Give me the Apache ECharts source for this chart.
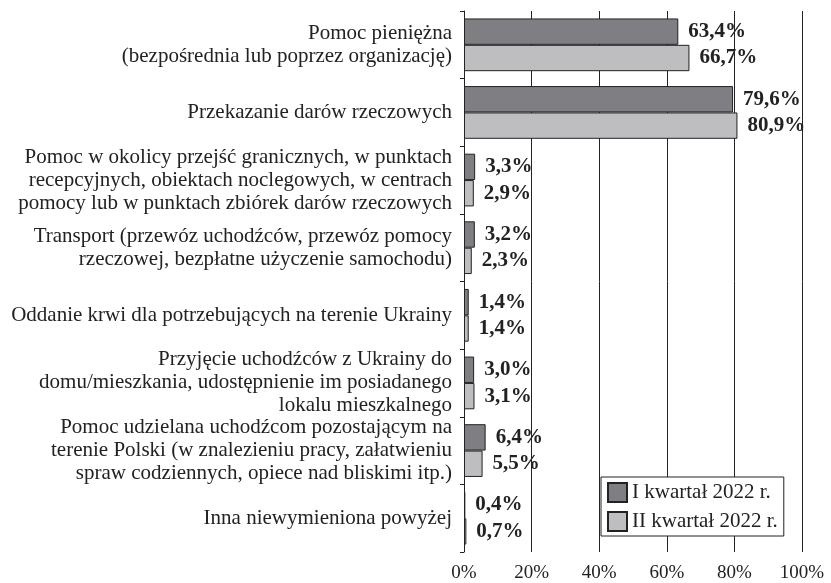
<!DOCTYPE html>
<html>
<head>
<meta charset="utf-8">
<script src="https://cdn.jsdelivr.net/npm/echarts@6/dist/echarts.min.js"></script>
<style>
html,body{margin:0;padding:0;background:#fff;}
#chart{width:831px;height:583px;}
</style>
</head>
<body>
<div id="chart"></div>
<script>
const categories = [
  'Pomoc pieniężna\n(bezpośrednia lub poprzez organizację)',
  'Przekazanie darów rzeczowych',
  'Pomoc w okolicy przejść granicznych, w punktach\nrecepcyjnych, obiektach noclegowych, w centrach\npomocy lub w punktach zbiórek darów rzeczowych',
  'Transport (przewóz uchodźców, przewóz pomocy\nrzeczowej, bezpłatne użyczenie samochodu)',
  'Oddanie krwi dla potrzebujących na terenie Ukrainy',
  'Przyjęcie uchodźców z Ukrainy do\ndomu/mieszkania, udostępnienie im posiadanego\nlokalu mieszkalnego',
  'Pomoc udzielana uchodźcom pozostającym na\nterenie Polski (w znalezieniu pracy, załatwieniu\nspraw codziennych, opiece nad bliskimi itp.)',
  'Inna niewymieniona powyżej'
];
const seriesNames = ['I kwartał 2022 r.', 'II kwartał 2022 r.'];
const q1Values = [63.4, 79.6, 3.3, 3.2, 1.4, 3.0, 6.4, 0.4];
const q2Values = [66.7, 80.9, 2.9, 2.3, 1.4, 3.1, 5.5, 0.7];
const xTicks = [0, 20, 40, 60, 80, 100];

const FONT = '"Liberation Serif", "Times New Roman", serif';
const TXT = '#222';

function fmt(v) { return v.toFixed(1).replace('.', ',') + '%'; }

function barSeries(name, data, color) {
  return {
    name: name,
    type: 'bar',
    data: data,
    barGap: '0%',
    barCategoryGap: '22%',
    itemStyle: { color: color, borderColor: '#222', borderWidth: 1 },
    label: {
      show: true,
      position: 'right',
      distance: 10,
      formatter: p => fmt(p.value),
      fontFamily: FONT,
      fontWeight: 'bold',
      fontSize: 21,
      color: TXT
    },
    emphasis: { disabled: true }
  };
}

const chart = echarts.init(document.getElementById('chart'), null, { renderer: 'canvas' });
chart.setOption({
  animation: false,
  backgroundColor: '#fff',
  grid: { left: 464, right: 29, top: 11, bottom: 27, containLabel: false },
  legend: {
    orient: 'vertical',
    left: 601,
    top: 477,
    padding: [5, 6, 4, 6],
    itemWidth: 19,
    itemHeight: 19,
    itemGap: 8,
    icon: 'rect',
    borderColor: '#222',
    borderWidth: 1,
    backgroundColor: '#fff',
    textStyle: { fontFamily: FONT, fontSize: 21, color: TXT },
    data: seriesNames
  },
  xAxis: {
    type: 'value',
    min: xTicks[0],
    max: xTicks[xTicks.length - 1],
    interval: xTicks[1] - xTicks[0],
    axisLine: { show: false },
    axisTick: { show: false },
    splitLine: { show: true, lineStyle: { color: '#222', width: 1 } },
    axisLabel: {
      formatter: '{value}%',
      fontFamily: FONT,
      fontSize: 19,
      color: TXT,
      margin: 12
    }
  },
  yAxis: {
    type: 'category',
    inverse: true,
    data: categories,
    axisLine: { show: true, lineStyle: { color: '#222', width: 1 } },
    axisTick: { show: true, length: 4, lineStyle: { color: '#222' } },
    axisLabel: {
      fontFamily: FONT,
      fontSize: 21,
      lineHeight: 23,
      color: TXT,
      margin: 12,
      align: 'right'
    }
  },
  series: [
    barSeries(seriesNames[0], q1Values, '#7f7f83'),
    barSeries(seriesNames[1], q2Values, '#bebec1')
  ]
});
</script>
</body>
</html>
